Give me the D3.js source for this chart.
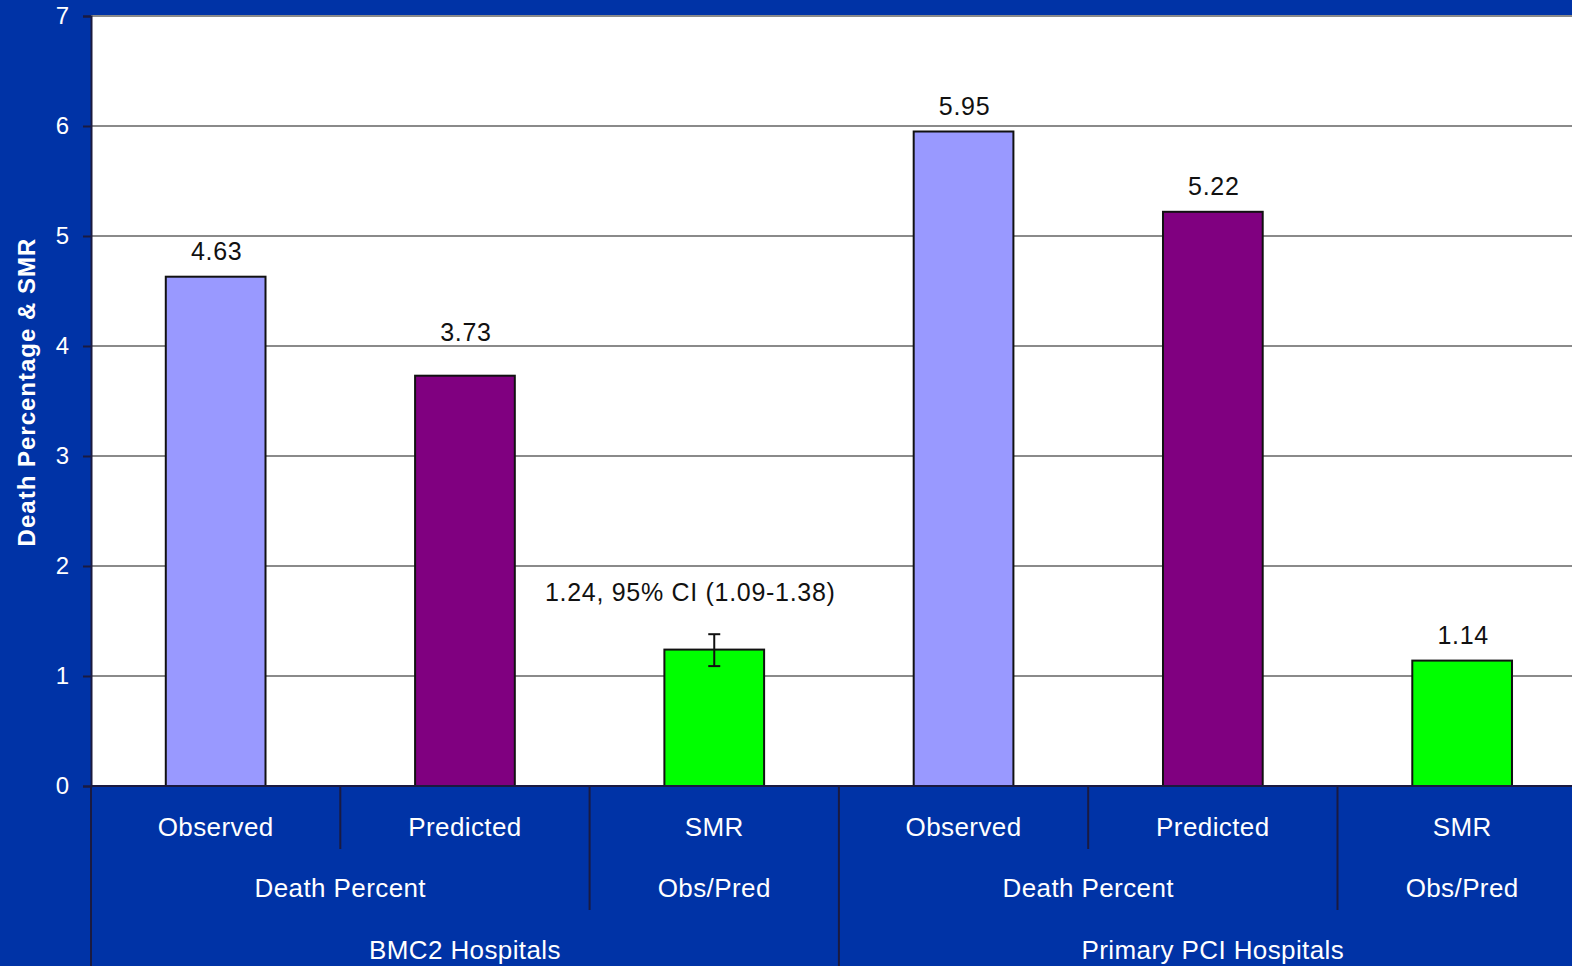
<!DOCTYPE html>
<html>
<head>
<meta charset="utf-8">
<script src="https://cdn.jsdelivr.net/npm/d3@7"></script>
<style>
  html, body { margin: 0; padding: 0; background: #0033A6; overflow: hidden; }
  svg { display: block; font-family: "Liberation Sans", Arial, sans-serif; }
</style>
</head>
<body>
<svg id="chart" width="1572" height="966"></svg>
<script>
// ---- data ----
const categories = ["Observed", "Predicted", "SMR", "Observed", "Predicted", "SMR"];
const values = [4.63, 3.73, 1.24, 5.95, 5.22, 1.14];
const valueLabels = ["4.63", "3.73", "1.24, 95% CI (1.09-1.38)", "5.95", "5.22", "1.14"];
const seriesColors = ["#9999FF", "#800080", "#00FF00", "#9999FF", "#800080", "#00FF00"];
const ciLow = [null, null, 1.09, null, null, null];
const ciHigh = [null, null, 1.38, null, null, null];
const subGroups = [
  { label: "Death Percent", span: 2 },
  { label: "Obs/Pred", span: 1 },
  { label: "Death Percent", span: 2 },
  { label: "Obs/Pred", span: 1 }
];
const groups = [
  { label: "BMC2 Hospitals", span: 3 },
  { label: "Primary PCI Hospitals", span: 3 }
];
const yTicks = [0, 1, 2, 3, 4, 5, 6, 7];

(function () {
// ---- layout ----
const W = 1572, H = 966;
const mLeft = 91, mTop = 16, mBottom = 786;
const step = 249.3;
const mRight = mLeft + step * categories.length;
// manual nudges of data labels (px), as in the original slide
const labelNudge = [0, -18, 0, 0, 0, 0];

const svg = d3.select("#chart");
svg.append("rect").attr("width", W).attr("height", H).attr("fill", "#0033A6");

const x = d3.scaleBand()
  .domain(d3.range(categories.length))
  .range([mLeft, mRight])
  .paddingInner(0.6)
  .paddingOuter(0.3);

const y = d3.scaleLinear().domain([0, 7]).range([mBottom, mTop]);

// plot area
svg.append("rect")
  .attr("x", mLeft).attr("y", mTop)
  .attr("width", mRight - mLeft).attr("height", mBottom - mTop)
  .attr("fill", "#ffffff");

// gridlines
svg.append("g").selectAll("line")
  .data(yTicks.filter(d => d > 0))
  .join("line")
  .attr("x1", mLeft).attr("x2", mRight)
  .attr("y1", d => y(d)).attr("y2", d => y(d))
  .attr("stroke", "#8a8a8a").attr("stroke-width", 2);

// y axis
const yAxis = d3.axisLeft(y).tickValues(yTicks).tickSize(8).tickPadding(14).tickFormat(d3.format("d"));
const yg = svg.append("g").attr("transform", `translate(${mLeft},0)`).call(yAxis);
yg.select(".domain").attr("stroke", "#1a1a40").attr("stroke-width", 2);
yg.selectAll(".tick line").attr("stroke", "#1a1a40").attr("stroke-width", 2);
yg.selectAll(".tick text").attr("fill", "#ffffff").attr("font-size", 24)
  .attr("font-family", "Liberation Sans, Arial, sans-serif");

// y title
svg.append("text")
  .attr("transform", `translate(35,392) rotate(-90)`)
  .attr("text-anchor", "middle")
  .attr("fill", "#ffffff").attr("font-weight", "bold").attr("font-size", 24)
  .attr("letter-spacing", 1)
  .text("Death Percentage & SMR");

// bars
svg.append("g").selectAll("rect")
  .data(values)
  .join("rect")
  .attr("x", (d, i) => x(i))
  .attr("y", d => y(d))
  .attr("width", x.bandwidth())
  .attr("height", d => mBottom - y(d))
  .attr("fill", (d, i) => seriesColors[i])
  .attr("stroke", "#111111").attr("stroke-width", 2);

// error bars
const eb = svg.append("g");
values.forEach((v, i) => {
  if (ciLow[i] == null) return;
  const cx = x(i) + x.bandwidth() / 2;
  eb.append("line").attr("x1", cx).attr("x2", cx).attr("y1", y(ciLow[i])).attr("y2", y(ciHigh[i]))
    .attr("stroke", "#111").attr("stroke-width", 2);
  [ciLow[i], ciHigh[i]].forEach(c => {
    eb.append("line").attr("x1", cx - 6).attr("x2", cx + 6).attr("y1", y(c)).attr("y2", y(c))
      .attr("stroke", "#111").attr("stroke-width", 2);
  });
});

// value labels
svg.append("g").selectAll("text")
  .data(values)
  .join("text")
  .attr("x", (d, i) => x(i) + x.bandwidth() / 2 + (ciHigh[i] != null ? -24 : 1))
  .attr("y", (d, i) => (ciHigh[i] != null ? y(ciHigh[i]) - 33 : y(d) - 17) + labelNudge[i])
  .attr("text-anchor", "middle")
  .attr("fill", "#111111").attr("font-size", 25).attr("letter-spacing", 0.7)
  .text((d, i) => valueLabels[i]);

// category axis (multi-level)
const catG = svg.append("g");
catG.append("line").attr("x1", mLeft).attr("x2", mRight).attr("y1", mBottom).attr("y2", mBottom)
  .attr("stroke", "#1a1a40").attr("stroke-width", 2);
catG.append("line").attr("x1", mLeft).attr("x2", mLeft).attr("y1", mBottom).attr("y2", H)
  .attr("stroke", "#1a1a40").attr("stroke-width", 2);

const row1 = 827, row2 = 888, row3 = 950;
const rowBottom = [849, 910, H];
const boundaryX = i => mLeft + step * i;
const catFont = 26, catSpacing = 0.4;

catG.selectAll("text.l1").data(categories).join("text").attr("class", "l1")
  .attr("x", (d, i) => x(i) + x.bandwidth() / 2)
  .attr("y", row1).attr("dy", "0.35em")
  .attr("text-anchor", "middle").attr("fill", "#fff").attr("font-size", catFont).attr("letter-spacing", catSpacing)
  .text(d => d);

let idx = 0;
const sub = subGroups.map(s => { const o = { ...s, start: idx }; idx += s.span; return o; });
catG.selectAll("text.l2").data(sub).join("text").attr("class", "l2")
  .attr("x", d => (boundaryX(d.start) + boundaryX(d.start + d.span)) / 2)
  .attr("y", row2).attr("dy", "0.35em")
  .attr("text-anchor", "middle").attr("fill", "#fff").attr("font-size", catFont).attr("letter-spacing", catSpacing)
  .text(d => d.label);

idx = 0;
const grp = groups.map(s => { const o = { ...s, start: idx }; idx += s.span; return o; });
catG.selectAll("text.l3").data(grp).join("text").attr("class", "l3")
  .attr("x", d => (boundaryX(d.start) + boundaryX(d.start + d.span)) / 2)
  .attr("y", row3).attr("dy", "0.35em")
  .attr("text-anchor", "middle").attr("fill", "#fff").attr("font-size", catFont).attr("letter-spacing", catSpacing)
  .text(d => d.label);

const subStarts = new Set(sub.map(s => s.start));
const grpStarts = new Set(grp.map(s => s.start));
for (let i = 1; i < categories.length; i++) {
  let depth = 0;
  if (subStarts.has(i)) depth = 1;
  if (grpStarts.has(i)) depth = 2;
  catG.append("line")
    .attr("x1", boundaryX(i)).attr("x2", boundaryX(i))
    .attr("y1", mBottom).attr("y2", rowBottom[depth])
    .attr("stroke", "#1a1a40").attr("stroke-width", 2);
}
})();
</script>
</body>
</html>
